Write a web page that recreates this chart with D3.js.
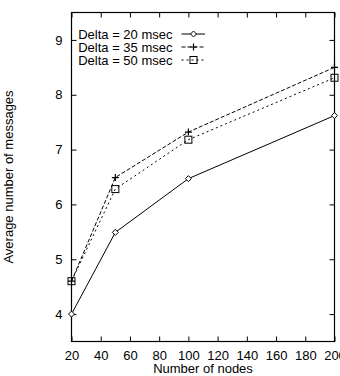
<!DOCTYPE html>
<html>
<head>
<meta charset="utf-8">
<script src="https://cdn.jsdelivr.net/npm/d3@7"></script>
<style>
  body { margin: 0; background: #fff; overflow: hidden; }
  svg { display: block; }
  text { font-family: "Liberation Sans", Arial, sans-serif; font-size: 13px; fill: #000; }
</style>
</head>
<body>
<div id="chart"></div>
<script>
'use strict';
var nodes = [20, 50, 100, 200];
var delta20 = [4.0, 5.49, 6.47, 7.62];
var delta35 = [4.6, 6.49, 7.32, 8.50];
var delta50 = [4.6, 6.28, 7.18, 8.31];
var seriesNames = ["Delta = 20 msec", "Delta = 35 msec", "Delta = 50 msec"];
var xTicks = [20, 40, 60, 80, 100, 120, 140, 160, 180, 200];
var yTicks = [4, 5, 6, 7, 8, 9];

// set the dimensions and margins of the graph
var margin = { top: 12.5, right: 5.5, bottom: 34.5, left: 71.5 },
    width = 340 - margin.left - margin.right,
    height = 376 - margin.top - margin.bottom;

var x = d3.scaleLinear().domain([20, 200]).range([0, width]);
var y = d3.scaleLinear().domain([3.5, 9.5]).range([height, 0]);

var svg = d3.select("#chart").append("svg")
    .attr("width", 340)
    .attr("height", 376)
    .append("g")
    .attr("transform", "translate(" + margin.left + "," + margin.top + ")");

// axes with inward ticks, mirrored on top and right
var tick = 5;
svg.append("g")
    .attr("transform", "translate(0," + height + ")")
    .call(d3.axisBottom(x).tickValues(xTicks).tickSizeInner(-tick).tickSizeOuter(0).tickPadding(9));
svg.append("g")
    .call(d3.axisTop(x).tickValues(xTicks).tickSizeInner(-tick).tickSizeOuter(0).tickFormat(""));
svg.append("g")
    .call(d3.axisLeft(y).tickValues(yTicks).tickSizeInner(-tick).tickSizeOuter(0).tickPadding(9).tickFormat(d3.format("d")));
svg.append("g")
    .attr("transform", "translate(" + width + ",0)")
    .call(d3.axisRight(y).tickValues(yTicks).tickSizeInner(-tick).tickSizeOuter(0).tickFormat(""));

svg.selectAll(".domain").remove();
svg.selectAll(".tick line").attr("stroke", "#000");
svg.selectAll(".tick text").style("font-size", "13px").style("font-family", "Liberation Sans, Arial, sans-serif");

// frame
svg.append("rect")
    .attr("width", width).attr("height", height)
    .attr("fill", "none").attr("stroke", "#000").attr("stroke-width", 1.2);

// axis labels
svg.append("text")
    .attr("x", width / 2).attr("y", height + 31)
    .attr("text-anchor", "middle")
    .text("Number of nodes");
svg.append("text")
    .attr("transform", "translate(" + (-58.5) + "," + (height / 2) + ") rotate(-90)")
    .attr("text-anchor", "middle")
    .text("Average number of messages");

var series = [
    { name: seriesNames[0], values: delta20, dash: null, marker: "diamond" },
    { name: seriesNames[1], values: delta35, dash: "4,2", marker: "plus" },
    { name: seriesNames[2], values: delta50, dash: "2,3", marker: "square" }
];

var line = d3.line()
    .x(function (d, i) { return x(nodes[i]); })
    .y(function (d) { return y(d); });

function drawMarker(g, type, cx, cy) {
    if (type === "diamond") {
        g.append("path")
            .attr("d", "M" + cx + "," + (cy - 3) + "L" + (cx + 3) + "," + cy + "L" + cx + "," + (cy + 3) + "L" + (cx - 3) + "," + cy + "Z")
            .attr("fill", "#fff").attr("stroke", "#000");
    } else if (type === "plus") {
        g.append("path")
            .attr("d", "M" + (cx - 3.5) + "," + cy + "H" + (cx + 3.5) + "M" + cx + "," + (cy - 3.5) + "V" + (cy + 3.5))
            .attr("stroke", "#000").attr("stroke-width", 1.2);
    } else {
        g.append("rect")
            .attr("x", cx - 3.5).attr("y", cy - 3.5).attr("width", 7).attr("height", 7)
            .attr("fill", "none").attr("stroke", "#000");
    }
}

series.forEach(function (s, k) {
    svg.append("path")
        .datum(s.values)
        .attr("fill", "none")
        .attr("stroke", "#000")
        .attr("stroke-width", 1)
        .attr("stroke-dasharray", s.dash)
        .attr("d", line);
    var mg = svg.append("g");
    s.values.forEach(function (v, i) {
        drawMarker(mg, s.marker, x(nodes[i]), y(v));
    });

    // legend
    var ly = 21.5 + k * 13;
    svg.append("text")
        .attr("x", 101).attr("y", ly)
        .attr("dy", "0.35em")
        .attr("text-anchor", "end")
        .text(s.name);
    svg.append("line")
        .attr("x1", 110).attr("x2", 133.5)
        .attr("y1", ly).attr("y2", ly)
        .attr("stroke", "#000")
        .attr("stroke-dasharray", s.dash);
    drawMarker(svg.append("g"), s.marker, 122, ly);
});
</script>
</body>
</html>
